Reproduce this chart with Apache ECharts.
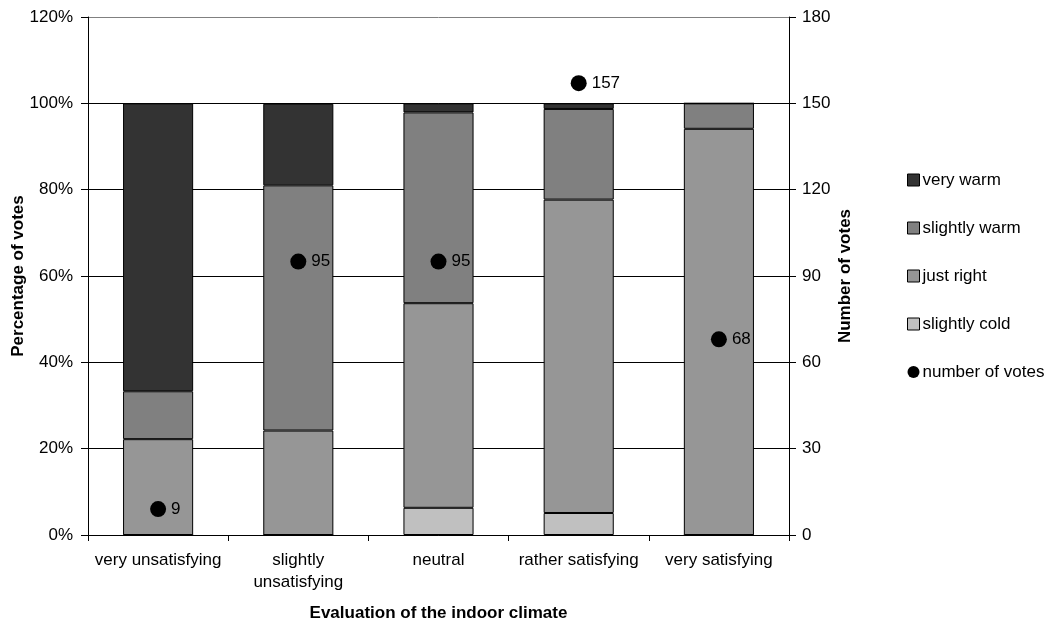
<!DOCTYPE html>
<html>
<head>
<meta charset="utf-8">
<style>
  html, body { margin: 0; padding: 0; background: #fff; }
  #chart { width: 1053px; height: 624px; }
</style>
<script src="https://cdn.jsdelivr.net/npm/echarts@6/dist/echarts.min.js"></script>
</head>
<body>
<div id="chart"></div>
<script>
// Evaluation categories along the x axis
const categories = [
  'very unsatisfying',
  'slightly\nunsatisfying',
  'neutral',
  'rather satisfying',
  'very satisfying'
];

// Share of thermal sensation votes per category (percent)
const slightlyCold = [0, 0, 6.3, 5.1, 0];
const justRight    = [22.2, 24.2, 47.4, 72.6, 94.1];
const slightlyWarm = [11.1, 56.8, 44.2, 21.0, 5.9];
const veryWarm     = [66.7, 18.9, 2.1, 1.3, 0];

// Total number of votes per category (right axis)
const numberOfVotes = [9, 95, 95, 157, 68];

const FONT = '"Liberation Sans", Arial, sans-serif';
const barColors = {
  'very warm': '#333333',
  'slightly warm': '#808080',
  'just right': '#969696',
  'slightly cold': '#c0c0c0'
};

function barSeries(name, data) {
  return {
    name: name,
    type: 'bar',
    stack: 'share',
    barWidth: '50%',
    data: data,
    itemStyle: { color: barColors[name], borderColor: '#000', borderWidth: 1 },
    emphasis: { disabled: true }
  };
}

const chart = echarts.init(document.getElementById('chart'), null, { renderer: 'canvas' });

chart.setOption({
  animation: false,
  backgroundColor: '#fff',
  textStyle: { fontFamily: FONT },
  grid: { left: 88, right: 264, top: 17, bottom: 89, containLabel: false, outerBoundsMode: 'none' },
  legend: {
    orient: 'vertical',
    left: 907,
    top: 171.5,
    padding: 0,
    itemWidth: 12,
    itemHeight: 12,
    itemGap: 31,
    icon: 'rect',
    textStyle: { fontFamily: FONT, fontSize: 17, color: '#000', padding: [0, 0, 0, -2] },
    selectedMode: false,
    data: [
      { name: 'very warm', itemStyle: { borderColor: '#000', borderWidth: 1 } },
      { name: 'slightly warm', itemStyle: { borderColor: '#000', borderWidth: 1 } },
      { name: 'just right', itemStyle: { borderColor: '#000', borderWidth: 1 } },
      { name: 'slightly cold', itemStyle: { borderColor: '#000', borderWidth: 1 } },
      { name: 'number of votes', icon: 'circle' }
    ]
  },
  xAxis: {
    type: 'category',
    data: categories,
    name: 'Evaluation of the indoor climate',
    nameLocation: 'middle',
    nameGap: 70,
    nameMoveOverlap: false,
    nameTextStyle: { fontFamily: FONT, fontSize: 17, fontWeight: 'bold', color: '#000' },
    axisLine: { lineStyle: { color: '#000', width: 1 } },
    axisTick: { show: true, alignWithLabel: false, length: 6, lineStyle: { color: '#000' } },
    axisLabel: { fontFamily: FONT, fontSize: 17, color: '#000', margin: 14, lineHeight: 22, interval: 0 }
  },
  yAxis: [
    {
      type: 'value',
      min: 0,
      max: 120,
      interval: 20,
      position: 'left',
      name: 'Percentage of votes',
      nameLocation: 'middle',
      nameGap: 61,
      nameMoveOverlap: false,
      nameTextStyle: { fontFamily: FONT, fontSize: 17, fontWeight: 'bold', color: '#000' },
      axisLine: { show: true, lineStyle: { color: '#000', width: 1 } },
      axisTick: { show: true, length: 7, lineStyle: { color: '#000' } },
      axisLabel: { fontFamily: FONT, fontSize: 17, color: '#000', margin: 15, formatter: '{value}%' },
      splitLine: {
        show: true,
        lineStyle: { color: ['#000', '#000', '#000', '#000', '#000', '#000', '#808080'], width: 1 }
      }
    },
    {
      type: 'value',
      min: 0,
      max: 180,
      interval: 30,
      position: 'right',
      name: 'Number of votes',
      nameLocation: 'middle',
      nameGap: 48,
      nameMoveOverlap: false,
      nameRotate: 90,
      nameTextStyle: { fontFamily: FONT, fontSize: 17, fontWeight: 'bold', color: '#000' },
      axisLine: { show: true, lineStyle: { color: '#000', width: 1 } },
      axisTick: { show: true, length: 7, lineStyle: { color: '#000' } },
      axisLabel: { fontFamily: FONT, fontSize: 17, color: '#000', margin: 13 },
      splitLine: { show: false }
    }
  ],
  series: [
    barSeries('slightly cold', slightlyCold),
    barSeries('just right', justRight),
    barSeries('slightly warm', slightlyWarm),
    barSeries('very warm', veryWarm),
    {
      name: 'number of votes',
      type: 'scatter',
      yAxisIndex: 1,
      data: numberOfVotes,
      symbol: 'circle',
      symbolSize: 16,
      itemStyle: { color: '#000', opacity: 1 },
      label: {
        show: true,
        position: 'right',
        distance: 5,
        fontFamily: FONT,
        fontSize: 17,
        color: '#000'
      },
      emphasis: { disabled: true },
      z: 5
    }
  ]
});
</script>
</body>
</html>
